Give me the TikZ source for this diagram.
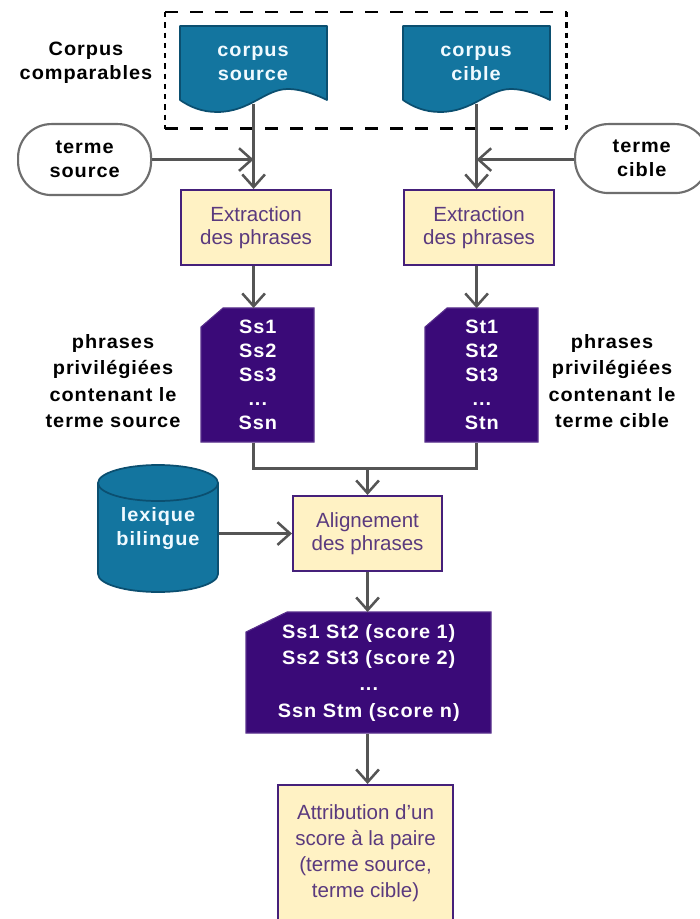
\documentclass[tikz,border=0pt]{standalone}
\usepackage{fontspec}
\setmainfont{Liberation Sans}
\newfontfamily\boldlbl[LetterSpace=5,FakeStretch=1.03]{Liberation Sans Bold}
\usetikzlibrary{arrows.meta,calc}
\definecolor{teal}{HTML}{13759F}
\definecolor{tealdk}{HTML}{0B4F70}
\definecolor{violetdk}{HTML}{3A0A78}
\definecolor{creme}{HTML}{FFF2C4}
\definecolor{procline}{HTML}{45207A}
\definecolor{proctxt}{HTML}{5A3A7E}
\definecolor{conn}{HTML}{555555}
\definecolor{pale}{HTML}{F0FAFF}
\tikzset{
 x=0.75pt,y=-0.75pt,
 lbl/.style={align=center,inner sep=0pt,font=\boldlbl\fontsize{14.5}{18}\selectfont,text=black},
 lblwide/.style={align=center,inner sep=0pt,font=\boldlbl\fontsize{14.5}{19.7}\selectfont,text=black},
 wlbl/.style={lbl,text=pale},
 vlbl/.style={lbl,text=white},
 vlblwide/.style={lblwide,text=white},
 proc/.style={draw=procline,line width=1.6pt,fill=creme,align=center,inner sep=0pt,text=proctxt,font=\fontsize{15.4}{17.7}\selectfont},
 procwide/.style={proc,font=\fontsize{15.4}{19.5}\selectfont},
 term/.style={draw=conn!85,line width=1.6pt,fill=white,rounded corners=25pt,inner sep=0pt},
 conx/.style={draw=conn,line width=2pt,-{Straight Barb[length=9.5pt,width=17pt,line width=1.9pt]}},
 plain/.style={draw=conn,line width=2pt},
 docu/.style={fill=teal,draw=tealdk,line width=1.3pt,line join=round},
 note/.style={fill=violetdk,draw=violetdk!85!white,line width=0.8pt},
 longdash/.style={draw=black,line width=2.2pt,dash pattern=on 10pt off 8.75pt},
 shortdash/.style={draw=black,line width=2.2pt,dash pattern=on 4pt off 3.7pt},
}
\newcommand{\wavedoc}[1]{%
 \begin{scope}[shift={(#1,0)}]
 \path[docu] (0,26) -- (147,26) -- (147,100) .. controls (135,94) and (120,89) .. (108,89)
   .. controls (85,89) and (70,112) .. (37,112) .. controls (22,112) and (10,107) .. (0,100) -- cycle;
 \end{scope}}
\begin{document}
\begin{tikzpicture}
\useasboundingbox (0,0) rectangle (699,919);
% shapes
\wavedoc{180}
\wavedoc{403}
\node[inner sep=0pt,minimum width=110pt,minimum height=57.75pt,anchor=north west] (cs) at (180,26) {};
\node[inner sep=0pt,minimum width=110pt,minimum height=57.75pt,anchor=north west] (cc) at (403,26) {};
\node[wlbl] (cslbl) at (253,63) {corpus\\source};
\node[wlbl] (cclbl) at (476,63) {corpus\\cible};
\node[lbl] (cctitle) at (86,63) {Corpus\\comparables};

\node[term,minimum width=99.75pt,minimum height=53.25pt,anchor=north west,lbl] (ts) at (17,123) {terme\\source};
\node[term,minimum width=100pt,minimum height=51.75pt,anchor=north west,lbl] (tc) at (574,123) {terme\\cible};

\node[proc,minimum width=112.5pt,minimum height=56.25pt,anchor=north west] (e1) at (180,189) {Extraction\\des phrases};
\node[proc,minimum width=112.5pt,minimum height=56.25pt,anchor=north west] (e2) at (403,189) {Extraction\\des phrases};

\path[note] (223,308) -- (314,308) -- (314,442) -- (201,442) -- (201,327) -- cycle;
\path[note] (447,308) -- (538,308) -- (538,442) -- (425,442) -- (425,327) -- cycle;
\node[vlbl,inner sep=0pt,minimum width=84.75pt,minimum height=100.5pt,anchor=north west] (d1) at (201,308) {Ss1\\Ss2\\Ss3\\...\\Ssn};
\node[vlbl,inner sep=0pt,minimum width=84.75pt,minimum height=100.5pt,anchor=north west] (d2) at (425,308) {St1\\St2\\St3\\...\\Stn};
\node[lblwide] (pl) at (113,381) {phrases\\privilégiées\\contenant le\\terme source};
\node[lblwide] (pr) at (612,381) {phrases\\privilégiées\\contenant le\\terme cible};

% cylinder
\path[docu] (98,483) -- (98,574) arc[x radius=60,y radius=18,start angle=180,end angle=0] -- (218,483) -- cycle;
\path[docu] (158,483) ellipse[x radius=60,y radius=18];
\node[inner sep=0pt,minimum width=90pt,minimum height=95pt,anchor=north west] (lex) at (98,465) {};
\node[wlbl] (lexlbl) at (158,529) {lexique\\bilingue};

\node[proc,minimum width=111.75pt,minimum height=56.25pt,anchor=north west] (al) at (292,495) {Alignement\\des phrases};

\path[note] (287,612) -- (491,612) -- (491,733) -- (246,733) -- (246,632) -- cycle;
\node[vlblwide,inner sep=0pt,minimum width=183.75pt,minimum height=90.75pt,anchor=north west] (sc) at (246,612) {Ss1 St2 (score 1)\\Ss2 St3 (score 2)\\...\\Ssn Stm (score n)};

\node[procwide,minimum width=131.25pt,minimum height=102pt,anchor=north west] (at) at (277,784) {Attribution d'un\\score à la paire\\(terme source,\\terme cible)};

% dashed group
\node[inner sep=0pt,minimum width=300.75pt,minimum height=87pt,anchor=north west] (grp) at (165,12) {};
\draw[longdash] (grp.north west) -- (grp.north east);
\draw[longdash] (grp.south west) -- (grp.south east);
\draw[shortdash] (grp.north west) -- (grp.south west);
\draw[shortdash] (grp.north east) -- (grp.south east);

% connectors
\coordinate (j1) at ($(d1.south)+(0,26)$);
\coordinate (ja) at (al.north |- j1);
\coordinate (m1) at (cs.south |- ts.east);
\coordinate (m2) at (cc.south |- ts.east);
\coordinate (ts1) at (ts.east |- m1);
\coordinate (tc1) at (tc.west |- m1);
\draw[conx] (cs.south) -- (e1.north -| cs.south);
\draw[conx] (cc.south) -- (e2.north -| cc.south);
\draw[conx] (ts1) -- (m1);
\draw[conx] (tc1) -- (m2);
\draw[conx] (e1.south -| cs.south) -- (d1.north -| cs.south);
\draw[conx] (e2.south -| cc.south) -- (d2.north -| cc.south);
\draw[plain] (d1.south -| cs.south) -- (cs.south |- j1) -- (cc.south |- j1) -- (d2.south -| cc.south);
\draw[conx] (ja) -- (al.north);
\draw[conx] (lex.east |- al.west) -- (al.west);
\draw[conx] (al.south) -- (al.south |- sc.north);
\draw[conx] (al.south |- sc.south) -- (al.south |- at.north);
\end{tikzpicture}
\end{document}
